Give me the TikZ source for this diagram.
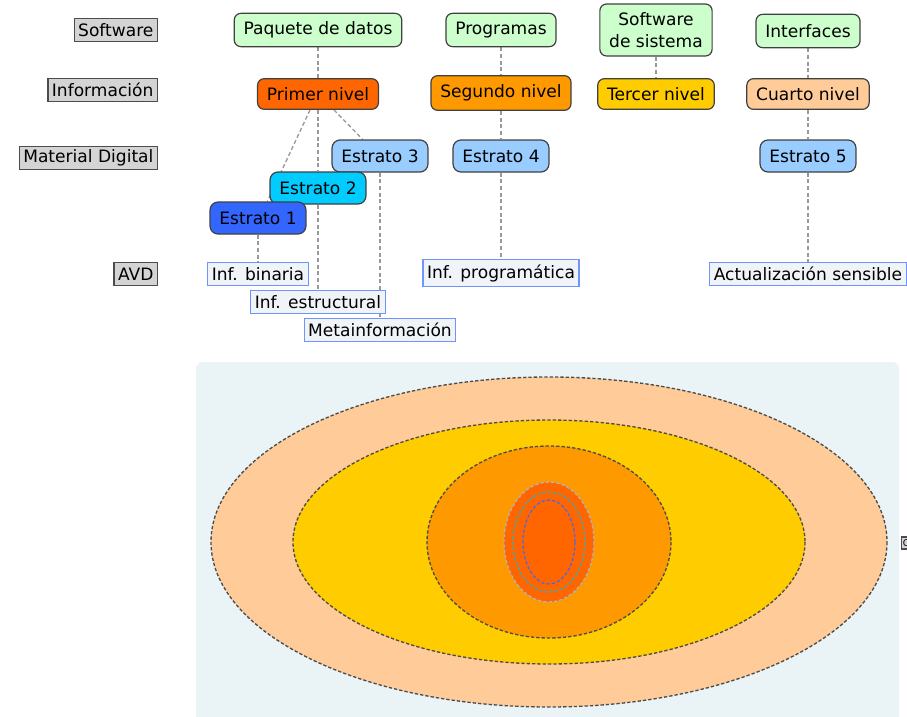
\documentclass[tikz,border=0pt]{standalone}
\usepackage{fontspec}
\setmainfont{DejaVu Sans}
\usetikzlibrary{backgrounds}
\definecolor{softgreen}{HTML}{CCFFCC}
\definecolor{lvlone}{HTML}{FF6600}
\definecolor{lvltwo}{HTML}{FF9900}
\definecolor{lvlthree}{HTML}{FFCC00}
\definecolor{lvlfour}{HTML}{FFCC99}
\definecolor{strone}{HTML}{3366FF}
\definecolor{strtwo}{HTML}{00CCFF}
\definecolor{strlight}{HTML}{99CCFF}
\definecolor{avdline}{HTML}{6F93FF}
\definecolor{avdfill}{HTML}{F0F3F8}
\definecolor{panelbg}{HTML}{EAF3F6}
\definecolor{tealring}{HTML}{44AAAA}
\definecolor{bluering}{HTML}{5566DD}
\begin{document}
\begin{tikzpicture}[x=0.75pt,y=-0.75pt,font=\fontsize{12.8}{16}\selectfont]
        \tikzstyle{tag}=[draw=black!70,line width=0.9pt,fill=black!17,inner xsep=3pt,inner ysep=0pt,minimum height=17pt,anchor=east]
        \tikzstyle{soft}=[draw=black!75,line width=0.9pt,fill=softgreen,rounded corners=5pt,inner xsep=7pt,minimum height=25pt,align=center]
        \tikzstyle{level}=[draw=black!75,line width=0.9pt,rounded corners=5pt,inner xsep=7pt,minimum height=23pt]
        \tikzstyle{stratum}=[draw=black!75,line width=0.9pt,rounded corners=6pt,inner xsep=7pt,minimum height=24pt]
        \tikzstyle{avd}=[draw=avdline,line width=0.9pt,fill=avdfill,inner xsep=3pt,inner ysep=0pt,minimum height=17pt]
        \tikzstyle{link}=[draw=black!40,line width=1pt,dash pattern=on 3pt off 2pt]
        \tikzstyle{ring}=[line width=1pt,dash pattern=on 2.5pt off 1.5pt]
        \useasboundingbox (0,0) rectangle (907,717);
        % row labels
        \node [tag] (lsoft) at (158,30) {Software};
        \node [tag] (linfo) at (158,90) {Información};
        \node [tag] (lmat) at (158,158) {Material Digital};
        \node [tag] (lavd) at (158,274) {AVD};
        % software
        \node [soft] (paq) at (318,30) {Paquete de datos};
        \node [soft] (prog) at (501,30) {Programas};
        \node [soft,minimum height=39pt] (sist) at (656,30) {Software\\de sistema};
        \node [soft] (intf) at (808,31) {Interfaces};
        % information levels
        \node [level,fill=lvlone] (n1) at (318,94) {Primer nivel};
        \node [level,fill=lvltwo,minimum height=26pt] (n2) at (501,93) {Segundo nivel};
        \node [level,fill=lvlthree] (n3) at (656,94) {Tercer nivel};
        \node [level,fill=lvlfour] (n4) at (808,94) {Cuarto nivel};
        % strata
        \node [stratum,fill=strlight] (e3) at (380,156) {Estrato 3};
        \node [stratum,fill=strtwo] (e2) at (318,188) {Estrato 2};
        \node [stratum,fill=strone] (e1) at (258,218) {Estrato 1};
        \node [stratum,fill=strlight] (e4) at (501,156) {Estrato 4};
        \node [stratum,fill=strlight] (e5) at (808,156) {Estrato 5};
        % AVD
        \node [avd] (bin) at (258,274) {Inf. binaria};
        \node [avd] (est) at (318,302) {Inf. estructural};
        \node [avd] (meta) at (380,330) {Metainformación};
        \node [avd,minimum height=20pt] (prg) at (501,273) {Inf. programática};
        \node [avd] (act) at (808,274) {Actualización sensible};
        \node [tag,anchor=west,font=\scriptsize,minimum height=9pt,inner xsep=1pt] (cut) at (901,543) {C};
        \begin{pgfonlayer}{background}
          \path[link] (paq) -- (n1);
          \path[link] (n1) -- (e2);
          \path[link] (e2) -- (est);
          \path[link] ([xshift=-6pt]n1.south) -- ([xshift=7pt]e1.north);
          \path[link] ([xshift=12pt]n1.south) -- ([xshift=-13pt]e3.north);
          \path[link] (e1) -- (bin);
          \path[link] (e3) -- (meta);
          \path[link] (prog) -- (n2);
          \path[link] (n2) -- (e4);
          \path[link] (e4) -- (prg);
          \path[link] (sist) -- (n3);
          \path[link] (intf) -- (n4);
          \path[link] (n4) -- (e5);
          \path[link] (e5) -- (act);
        \end{pgfonlayer}
        % layers of the digital object
        \fill [panelbg,rounded corners=5pt] (196,362) rectangle (899,730);
        \coordinate (core) at (549,542);
        \draw [ring,draw=black!70,fill=lvlfour] (core) ellipse [x radius=338, y radius=165];
        \draw [ring,draw=black!70,fill=lvlthree] (core) ellipse [x radius=256, y radius=122];
        \draw [ring,draw=black!70,fill=lvltwo] (core) ellipse [x radius=122, y radius=96];
        \draw [ring,draw=black!30,fill=lvlone] (core) ellipse [x radius=45, y radius=60];
        \draw [ring,draw=tealring] (core) ellipse [x radius=36, y radius=50];
        \draw [ring,draw=bluering] (core) ellipse [x radius=26, y radius=42];
\end{tikzpicture}
\end{document}
